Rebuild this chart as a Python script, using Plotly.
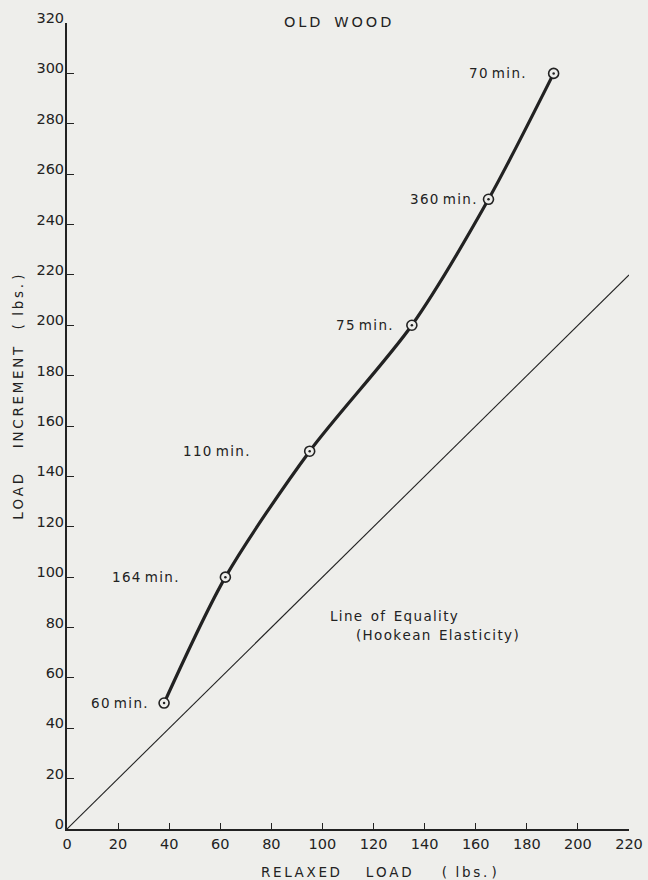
import plotly.graph_objects as go

# data
relaxed_load = [38, 62, 95, 135, 165, 190.5]
load_increment = [50, 100, 150, 200, 250, 300]
durations = ["60 min.", "164 min.", "110 min.", "75 min.", "360 min.", "70 min."]
equality_x = [0, 220]
equality_y = [0, 220]
x_ticks = [0, 20, 40, 60, 80, 100, 120, 140, 160, 180, 200, 220]
y_ticks = [0, 20, 40, 60, 80, 100, 120, 140, 160, 180, 200, 220, 240, 260, 280, 300, 320]

# label pixel offsets (left of each point)
label_shift = [-14, -44, -58, -17, -10, -26]

ink = "#222222"
paper = "#eeeeeb"
font = "DejaVu Sans"
HAIR = "\u200a"
THIN = "\u2009"
NB = "\u00a0"


def spaced(s, sep):
    return sep.join(list(s))


def phrase(words, sep, gaps):
    out = spaced(words[0], sep)
    for w, g in zip(words[1:], gaps):
        out += NB * g + spaced(w, sep)
    return out


fig = go.Figure()
fig.add_trace(go.Scatter(x=equality_x, y=equality_y, mode="lines",
                         line=dict(color=ink, width=1.1), hoverinfo="skip"))
fig.add_trace(go.Scatter(x=relaxed_load, y=load_increment, mode="lines",
                         line=dict(color=ink, width=3.2, shape="spline", smoothing=0.8),
                         hoverinfo="skip"))
fig.add_trace(go.Scatter(x=relaxed_load, y=load_increment, mode="markers",
                         marker=dict(symbol="circle", size=10, color=paper,
                                     line=dict(color=ink, width=1.6)),
                         hoverinfo="skip"))
fig.add_trace(go.Scatter(x=relaxed_load, y=load_increment, mode="markers",
                         marker=dict(symbol="circle", size=2.5, color=ink),
                         hoverinfo="skip"))

for xv, yv, t, s in zip(relaxed_load, load_increment, durations, label_shift):
    fig.add_annotation(x=xv, y=yv, text=phrase(t.split(" "), HAIR, [1]),
                       showarrow=False, xanchor="right", yanchor="middle", xshift=s,
                       font=dict(family=font, size=13.5, color=ink))

fig.add_annotation(x=102.2, y=84.5, text=phrase(["Line", "of", "Equality"], HAIR, [2, 2]),
                   showarrow=False, xanchor="left", yanchor="middle",
                   font=dict(family=font, size=13.5, color=ink))
fig.add_annotation(x=112.5, y=77, text=phrase(["(Hookean", "Elasticity)"], HAIR, [2]),
                   showarrow=False, xanchor="left", yanchor="middle",
                   font=dict(family=font, size=13.5, color=ink))

fig.add_annotation(xref="paper", yref="paper", x=0.482, y=1.0, yshift=1,
                   text=phrase(["OLD", "WOOD"], THIN, [3]), showarrow=False,
                   xanchor="center", yanchor="middle",
                   font=dict(family=font, size=14.5, color=ink))

# axis titles
fig.add_annotation(xref="paper", yref="paper", x=0.555, y=0, yshift=-43,
                   text=phrase(["RELAXED", "LOAD", "(", "lbs.", ")"], THIN, [6, 7, 2, 1]),
                   showarrow=False, xanchor="center", yanchor="middle",
                   font=dict(family=font, size=13.5, color=ink))
fig.add_annotation(xref="paper", yref="paper", x=0, xshift=-49, y=0.535,
                   text=phrase(["LOAD", "INCREMENT", "(", "lbs.", ")"], THIN, [6, 4, 2, 1]),
                   showarrow=False, textangle=-90, xanchor="center", yanchor="middle",
                   font=dict(family=font, size=13.5, color=ink))

fig.update_layout(
    width=648, height=880,
    margin=dict(l=67, r=19, t=23, b=51),
    paper_bgcolor=paper, plot_bgcolor=paper,
    showlegend=False,
    xaxis=dict(range=[0, 220], tickvals=x_ticks, ticks="inside", ticklen=6,
               tickwidth=1.2, tickcolor=ink, showline=True, linecolor=ink,
               linewidth=2, showgrid=False, zeroline=False, automargin=False,
               ticklabelstandoff=1,
               tickfont=dict(family=font, size=14.5, color=ink)),
    yaxis=dict(range=[0, 320], tickvals=y_ticks, ticks="inside", ticklen=7,
               tickwidth=1.2, tickcolor=ink, showline=True, linecolor=ink,
               linewidth=2, showgrid=False, zeroline=False, automargin=False,
               ticklabelshift=-5, ticklabelstandoff=-2,
               tickfont=dict(family=font, size=14.5, color=ink)),
)

fig.write_html(
    "out.html",
    config={"displayModeBar": False},
    post_script="document.body.style.margin='0';"
                "document.body.style.background='" + paper + "';",
)
